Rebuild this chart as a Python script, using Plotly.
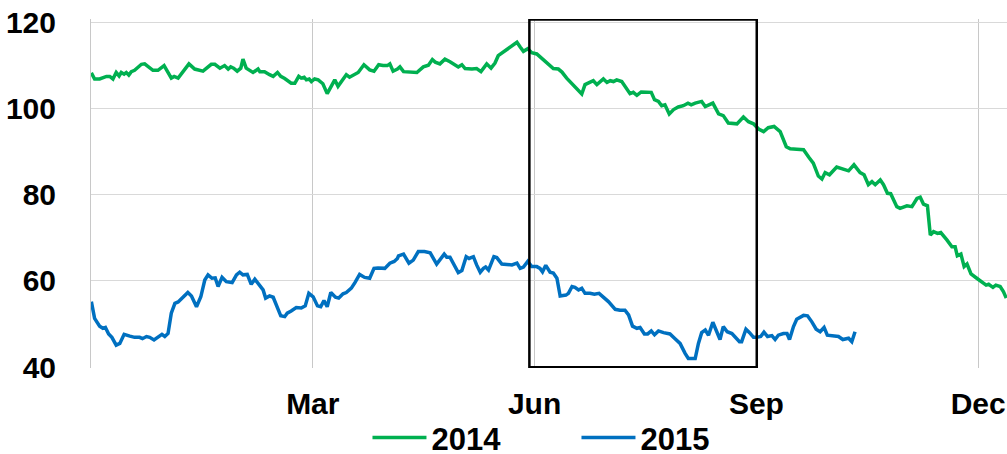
import plotly.graph_objects as go

# Trading-day index (x) and price values
g_day = [0.1,1.0,2.4,4.3,5.2,6.1,7.0,7.8,8.4,9.2,
         9.8,10.5,11.2,12.1,14.0,14.9,17.2,18.6,20.3,22.3,
         23.1,24.2,27.2,28.8,31.1,33.4,34.4,35.8,37.1,38.1,
         38.8,39.6,40.6,41.6,42.2,43.1,45.0,46.4,46.9,48.2,
         49.6,50.6,51.8,52.7,53.8,55.6,56.6,57.7,58.4,59.2,
         59.8,60.6,61.2,62.1,63.1,64.4,65.6,66.8,67.7,68.6,
         70.9,71.8,73.3,74.2,75.8,77.4,78.6,79.9,81.1,82.3,
         83.0,83.9,85.1,85.8,86.8,88.1,90.5,92.3,93.7,94.8,
         95.6,96.9,98.3,99.7,102.0,103.0,103.9,105.8,107.1,108.3,
         109.9,111.1,112.2,113.1,114.1,115.5,116.4,117.3,118.3,119.2,
         120.1,121.3,122.4,123.8,125.2,126.1,127.5,128.4,129.8,130.8,
         132.1,133.5,135.2,136.3,137.2,138.4,139.5,140.5,141.4,142.3,
         143.3,144.2,145.1,146.0,147.4,148.3,149.7,150.6,151.6,152.8,
         154.1,155.6,156.5,157.6,158.5,159.4,160.6,161.8,163.1,164.5,
         165.8,166.7,167.8,169.6,170.6,172.7,174.3,175.6,177.0,179.4,
         181.2,182.6,184.0,185.4,186.8,188.1,189.7,191.4,193.1,194.2,
         196.0,197.9,199.3,200.6,202.0,203.0,203.9,205.1,207.1,209.0,
         210.4,211.9,213.6,214.7,215.9,216.9,217.8,219.2,220.1,221.2,
         222.1,223.8,224.7,226.6,228.0,229.4,230.3,231.2,232.3,233.1,
         234.0,235.1,236.0,237.7,239.1,240.0,240.6,241.6,242.5,243.3,
         244.4,246.0,247.4,248.6,249.3,250.5,251.3,252.5,253.4,254.2]
g_val = [108.2,106.8,106.8,107.4,107.4,106.8,108.3,107.5,108.3,107.9,
         108.3,107.7,108.5,108.8,110.2,110.3,108.8,108.8,109.9,107.0,
         107.4,107.0,110.3,109.1,108.6,110.2,110.2,109.3,109.9,109.1,
         109.6,109.3,108.6,109.3,111.4,109.3,108.3,109.1,108.5,108.5,
         107.8,107.4,108.3,107.4,106.9,105.8,105.8,107.4,107.0,107.2,
         106.6,106.8,106.2,106.8,106.6,105.7,103.4,105.1,106.6,105.1,
         107.8,107.2,107.8,108.3,110.1,108.9,108.6,110.1,109.9,109.9,
         110.3,108.6,109.1,109.6,108.5,108.4,108.3,109.6,110.0,111.3,
         110.7,110.3,111.4,110.8,109.6,110.1,109.2,109.1,109.2,108.5,
         110.3,109.3,110.5,112.2,112.8,113.4,114.0,114.6,115.3,114.2,
         113.2,113.8,112.9,112.6,111.6,110.9,110.1,109.2,109.1,108.4,
         107.0,105.8,104.5,103.3,105.5,106.0,106.4,105.5,106.2,106.8,
         106.0,106.4,106.2,106.6,106.2,105.1,103.4,103.7,103.0,103.8,
         103.7,103.7,102.0,101.6,100.6,100.8,98.7,99.7,100.3,100.6,
         101.2,100.8,101.2,101.6,100.4,101.2,98.7,98.3,96.6,96.4,
         98.0,96.9,96.4,95.2,94.6,95.5,95.8,94.6,91.1,90.6,
         90.5,90.4,88.7,87.3,84.3,83.6,85.1,84.6,86.4,86.0,
         85.5,86.9,85.1,84.6,82.3,83.0,82.3,83.4,82.3,80.3,
         80.2,77.2,76.8,77.4,77.2,79.1,79.4,77.8,77.4,70.6,
         71.4,71.0,71.2,69.5,67.9,67.9,65.8,66.2,63.3,63.9,
         61.6,60.6,59.8,59.0,59.2,58.5,59.0,58.7,57.5,56.0]

b_day = [0.1,1.0,2.4,3.3,4.0,4.9,5.8,7.0,8.0,9.2,
         10.8,12.1,13.5,14.3,15.4,16.3,17.5,19.1,19.7,20.5,
         21.4,22.3,23.3,24.2,25.6,26.9,27.9,29.3,30.5,31.6,
         32.5,33.6,34.5,35.3,36.4,37.6,39.2,40.4,41.3,42.2,
         43.4,44.5,45.5,46.9,47.8,48.5,49.6,50.6,51.8,52.7,
         53.8,54.5,55.6,57.0,58.4,59.5,60.5,61.7,62.9,63.8,
         64.7,65.6,66.6,67.9,68.8,70.0,70.9,72.3,73.3,74.6,
         76.0,77.4,78.6,79.7,81.6,83.0,84.2,85.1,85.4,86.8,
         88.3,89.5,90.9,92.6,94.2,96.0,98.1,98.8,99.7,100.9,
         102.0,103.0,104.2,105.0,106.2,107.1,108.1,109.0,109.6,110.4,
         111.9,112.7,114.1,115.5,116.9,118.3,119.2,120.1,121.3,122.4,
         123.8,124.7,125.4,126.3,127.5,128.4,129.4,130.3,131.9,132.6,
         133.6,134.4,135.4,136.3,137.2,138.6,139.8,141.1,142.3,143.7,
         145.6,146.9,148.3,149.3,150.4,151.6,152.5,153.7,154.6,155.6,
         156.5,157.6,159.0,160.8,162.2,163.6,165.0,165.9,167.8,168.7,
         169.6,170.6,171.5,172.7,173.8,174.7,175.6,176.7,178.0,180.1,
         180.7,181.9,182.9,184.0,184.9,186.0,186.9,187.9,189.1,190.0,
         190.9,192.3,193.3,194.0,195.1,196.0,197.9,199.0,200.2,201.4,
         202.5,203.6,204.5,206.2,207.6,208.8,210.4,211.3,212.2]
b_val = [55.2,51.3,49.5,49.0,49.2,47.7,46.9,45.1,45.5,47.6,
         47.2,46.9,46.9,46.6,47.1,46.9,46.3,47.4,47.6,47.1,
         47.8,52.5,54.8,55.1,56.3,57.3,56.5,54.0,56.3,60.2,
         61.4,60.6,60.7,58.7,60.8,59.8,59.6,61.4,62.0,61.4,
         61.5,59.2,60.4,59.0,57.9,56.0,56.5,56.2,53.6,51.9,
         51.7,52.5,53.0,53.8,53.7,54.2,57.1,56.3,54.2,54.0,
         55.4,54.0,57.3,56.2,56.0,57.0,57.3,58.3,59.6,61.5,
         60.8,60.6,62.9,63.0,62.9,64.1,64.5,65.2,65.8,66.2,
         64.1,64.8,66.8,66.8,66.5,63.9,66.2,65.5,65.5,63.7,
         61.9,62.4,65.6,65.2,65.6,63.7,62.0,62.9,63.2,62.5,
         65.6,65.4,63.9,63.8,63.7,64.1,62.9,63.2,64.5,63.3,
         63.3,62.9,62.1,63.6,62.0,61.8,60.6,56.5,56.7,57.1,
         58.7,58.5,57.9,58.3,57.1,57.1,56.9,57.1,56.2,55.2,
         53.4,53.2,53.2,52.1,49.5,49.0,49.2,47.7,47.7,48.4,
         47.5,48.4,48.0,47.7,46.6,45.5,43.2,42.0,42.0,45.5,
         48.0,48.6,47.4,50.4,48.2,46.4,49.4,48.2,47.8,45.9,
         45.9,48.8,48.0,46.9,46.9,47.1,48.1,47.1,47.3,46.4,
         47.4,47.8,47.8,46.4,49.4,51.1,52.0,51.9,50.5,48.8,
         48.2,49.2,47.4,47.2,47.1,46.4,46.7,45.9,48.2]

assert len(g_day) == len(g_val), (len(g_day), len(g_val))
assert len(b_day) == len(b_val), (len(b_day), len(b_val))

series_names = ["2014", "2015"]
series_colors = ["#00B050", "#0070C0"]

tick_days = [61.6, 123.2, 184.8, 246.4]
tick_text = ["Mar", "Jun", "Sep", "Dec"]
y_ticks = [40, 60, 80, 100, 120]

# highlighted period (trading-day index)
box_start, box_end = 121.75, 184.9
box_low, box_high = 40, 120.6

FONT = "Liberation Sans, Arial, sans-serif"

fig = go.Figure()
fig.add_trace(go.Scatter(x=g_day, y=g_val, mode="lines", name=series_names[0],
                         line=dict(color=series_colors[0], width=3.5)))
fig.add_trace(go.Scatter(x=b_day, y=b_val, mode="lines", name=series_names[1],
                         line=dict(color=series_colors[1], width=3.5)))

fig.add_shape(type="rect", xref="x", yref="y",
              x0=box_start, x1=box_end, y0=box_low, y1=box_high,
              line=dict(color="black", width=2.5), fillcolor="rgba(0,0,0,0)")

fig.update_layout(
    width=1007, height=454,
    margin=dict(l=91, r=0, t=19, b=86, autoexpand=False),
    paper_bgcolor="white", plot_bgcolor="white",
    font=dict(family=FONT, size=30, color="black", weight="bold"),
    showlegend=True,
    legend=dict(orientation="h", x=0.53, xanchor="center", y=-0.2, yanchor="middle",
                font=dict(family=FONT, size=31, color="black", weight="bold"),
                entrywidth=140, itemwidth=54, bgcolor="rgba(0,0,0,0)"),
    xaxis=dict(range=[0, 254.4], tickvals=tick_days, ticktext=tick_text,
               showgrid=True, gridcolor="#C8C8C8", gridwidth=1,
               showline=False, zeroline=False, ticks="", automargin=False,
               ticklabelstandoff=15,
               tickfont=dict(family=FONT, size=30, color="black", weight="bold")),
    yaxis=dict(range=[39.8, 120.7], tickvals=y_ticks,
               showgrid=True, gridcolor="#D9D9D9", gridwidth=1,
               showline=True, linecolor="#C8C8C8", linewidth=1, automargin=False,
               zeroline=False, ticks="", ticklabelstandoff=28,
               tickfont=dict(family=FONT, size=30, color="black", weight="bold")),
)

fig.write_html("out.html", config={"displayModeBar": False},
               post_script="document.body.style.margin='0';document.body.style.overflow='hidden';")
